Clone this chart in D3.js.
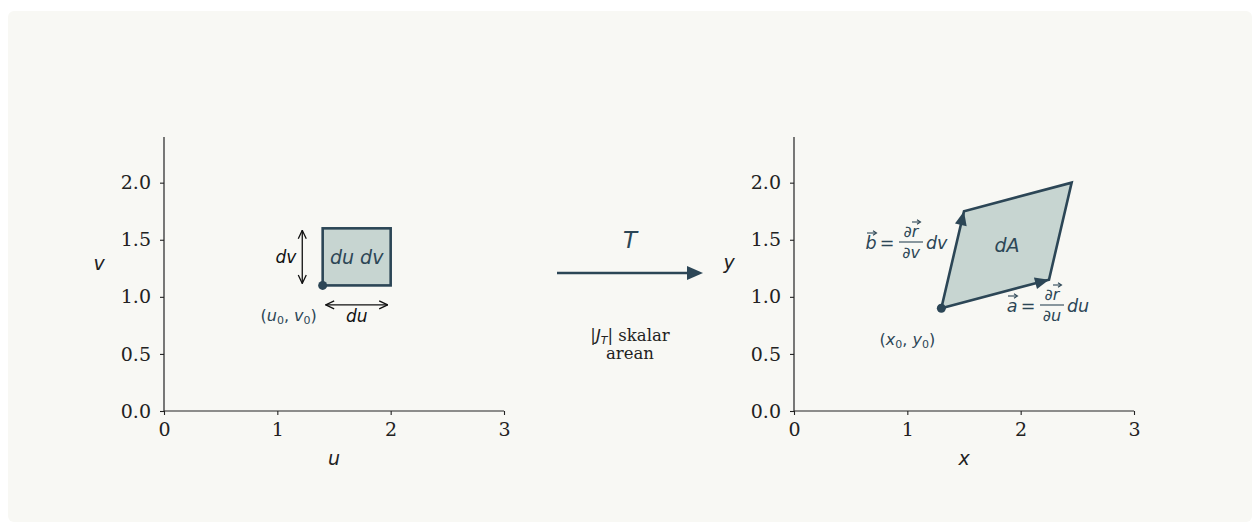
<!DOCTYPE html>
<html><head><meta charset="utf-8">
<script src="https://cdn.jsdelivr.net/npm/d3@7"></script>
<style>
html,body{margin:0;padding:0;background:#ffffff;}
svg{display:block;}
</style></head>
<body>
<script>
// ---- data ----
const xTicks = [0, 1, 2, 3];
const yTicks = [0, 0.5, 1.0, 1.5, 2.0];
const xDomain = [0, 3];
const yDomain = [0, 2.4];
const squareOrigin = [1.4, 1.1];   // (u0, v0)
const squareSize = [0.6, 0.5];     // du, dv
const dvArrowU = 1.22;
const duArrowV = 0.93;
const labelUV0 = [1.1, 0.83];
const origin2 = [1.3, 0.9];        // (x0, y0)
const vecA = [0.95, 0.25];
const vecB = [0.2, 0.85];
const labelDA = [1.88, 1.45];
const labelXY0 = [1.0, 0.62];

const W = 1252, H = 524;
const dark = "#2c4656";
const fillC = "#c7d5d1";
const mathFont = "DejaVu Sans";
const serif = "DejaVu Serif";

const svg = d3.select("body").append("svg").attr("width", W).attr("height", H);
svg.append("rect").attr("x", 8).attr("y", 11).attr("width", W - 8).attr("height", H - 13)
  .attr("rx", 6).attr("fill", "#f8f8f4");

const defs = svg.append("defs");
function openHead(id) {
  defs.append("marker").attr("id", id).attr("viewBox", "0 0 10 10").attr("refX", 9.5).attr("refY", 5)
    .attr("markerWidth", 10).attr("markerHeight", 10).attr("markerUnits", "userSpaceOnUse")
    .attr("orient", "auto-start-reverse")
    .append("path").attr("d", "M1,1 L9.5,5 L1,9").attr("fill", "none").attr("stroke", "#111").attr("stroke-width", 1.3);
}
openHead("oh");

function makeAxes(x0) {
  const x = d3.scaleLinear().domain(xDomain).range([x0, x0 + 340]);
  const y = d3.scaleLinear().domain(yDomain).range([411, 137]);
  const g = svg.append("g");
  const ax = g.append("g").attr("transform", `translate(0,${y(0)})`)
    .call(d3.axisBottom(x).tickValues(xTicks).tickFormat(d3.format("d")).tickSize(4).tickPadding(8));
  const ay = g.append("g").attr("transform", `translate(${x(0)},0)`)
    .call(d3.axisLeft(y).tickValues(yTicks).tickFormat(d3.format(".1f")).tickSize(4).tickPadding(9));
  [ax, ay].forEach(a => {
    a.select(".domain").attr("stroke", "#222").attr("stroke-width", 1.2);
    a.selectAll(".tick line").attr("stroke", "#222").attr("stroke-width", 1.1);
    a.selectAll(".tick text").attr("font-family", serif).attr("font-size", 19).attr("fill", "#222");
  });
  ax.select(".domain").attr("d", `M${x(0)},0H${x(3)}`);
  ay.select(".domain").attr("d", `M0,${y(0)}V${y(2.4)}`);
  return {x, y, g};
}

function mathText(parent, x, y, s, size, color, anchor) {
  return parent.append("text").attr("x", x).attr("y", y).attr("font-family", mathFont)
    .attr("font-style", "italic").attr("font-size", size).attr("fill", color)
    .attr("text-anchor", anchor || "middle").text(s);
}
function vecArrow(parent, cx, topY, w, color) {
  parent.append("line").attr("x1", cx - w / 2).attr("x2", cx + w / 2).attr("y1", topY).attr("y2", topY)
    .attr("stroke", color).attr("stroke-width", 1.1);
  parent.append("path").attr("d", `M${cx + w / 2 - 3},${topY - 2.2} L${cx + w / 2 + 0.5},${topY} L${cx + w / 2 - 3},${topY + 2.2}`)
    .attr("fill", "none").attr("stroke", color).attr("stroke-width", 1.1);
}

// ---- left axes ----
const L = makeAxes(164);
mathText(svg, L.x(1.5), 465, "u", 19, "#222");
mathText(svg, 99, 270, "v", 19, "#222");

const [u0, v0] = squareOrigin;
L.g.append("rect").attr("x", L.x(u0)).attr("y", L.y(v0 + squareSize[1]))
  .attr("width", L.x(u0 + squareSize[0]) - L.x(u0)).attr("height", L.y(v0) - L.y(v0 + squareSize[1]))
  .attr("fill", fillC).attr("stroke", dark).attr("stroke-width", 2.6);
L.g.append("circle").attr("cx", L.x(u0)).attr("cy", L.y(v0)).attr("r", 4.5).attr("fill", dark);
mathText(L.g, L.x(u0 + squareSize[0] / 2), L.y(v0 + squareSize[1] / 2) + 7, "du dv", 19, dark);

// dv arrow
L.g.append("line").attr("x1", L.x(dvArrowU)).attr("x2", L.x(dvArrowU))
  .attr("y1", L.y(v0) - 2).attr("y2", L.y(v0 + squareSize[1]) + 2)
  .attr("stroke", "#111").attr("stroke-width", 1.3)
  .attr("marker-start", "url(#oh)").attr("marker-end", "url(#oh)");
mathText(L.g, L.x(dvArrowU) - 6, L.y(v0 + squareSize[1] / 2) + 6, "dv", 17, "#111", "end");
// du arrow
L.g.append("line").attr("x1", L.x(u0) + 3).attr("x2", L.x(u0 + squareSize[0]) - 3)
  .attr("y1", L.y(duArrowV)).attr("y2", L.y(duArrowV))
  .attr("stroke", "#111").attr("stroke-width", 1.3)
  .attr("marker-start", "url(#oh)").attr("marker-end", "url(#oh)");
mathText(L.g, L.x(u0 + squareSize[0] / 2), L.y(duArrowV) + 17, "du", 17, "#111");
// (u0, v0)
function subLabel(parent, x, y, a, b) {
  const t = parent.append("text").attr("x", x).attr("y", y)
    .attr("font-family", mathFont).attr("font-size", 16).attr("fill", dark).attr("text-anchor", "middle");
  t.append("tspan").text("(");
  t.append("tspan").attr("font-style", "italic").text(a);
  t.append("tspan").attr("font-size", 11).attr("dy", 3).text("0");
  t.append("tspan").attr("dy", -3).text(", ");
  t.append("tspan").attr("font-style", "italic").text(b);
  t.append("tspan").attr("font-size", 11).attr("dy", 3).text("0");
  t.append("tspan").attr("dy", -3).text(")");
}
subLabel(L.g, L.x(labelUV0[0]), L.y(labelUV0[1]) + 5, "u", "v");

// ---- middle ----
const midY = 273;
svg.append("line").attr("x1", 557).attr("x2", 690).attr("y1", midY).attr("y2", midY)
  .attr("stroke", dark).attr("stroke-width", 2.4);
svg.append("path").attr("d", `M687,${midY - 7} L703,${midY} L687,${midY + 7} Z`).attr("fill", dark);
mathText(svg, 630, 248, "T", 23, dark);
const jt = svg.append("text").attr("x", 630).attr("y", 341).attr("font-family", serif)
  .attr("font-size", 16.5).attr("fill", "#222").attr("text-anchor", "middle");
jt.append("tspan").text("|");
jt.append("tspan").attr("font-family", mathFont).attr("font-style", "italic").text("J");
jt.append("tspan").attr("font-family", mathFont).attr("font-style", "italic").attr("font-size", 11).attr("dy", 3).text("T");
jt.append("tspan").attr("dy", -3).text("| skalar");
svg.append("text").attr("x", 630).attr("y", 359).attr("font-family", serif)
  .attr("font-size", 16.5).attr("fill", "#222").attr("text-anchor", "middle").text("arean");

// ---- right axes ----
const R = makeAxes(794);
mathText(svg, R.x(1.5), 465, "x", 19, "#222");
mathText(svg, 729, 269, "y", 19, "#222");

const o = origin2;
const pA = [o[0] + vecA[0], o[1] + vecA[1]];
const pB = [o[0] + vecB[0], o[1] + vecB[1]];
const pC = [o[0] + vecA[0] + vecB[0], o[1] + vecA[1] + vecB[1]];
const poly = [o, pA, pC, pB].map(p => [R.x(p[0]), R.y(p[1])]);
R.g.append("path").attr("d", d3.line()(poly) + "Z").attr("fill", fillC)
  .attr("stroke", dark).attr("stroke-width", 2.6).attr("stroke-linejoin", "miter");
function headAt(p, from) {
  const tip = [R.x(p[0]), R.y(p[1])], s = [R.x(from[0]), R.y(from[1])];
  const ang = Math.atan2(tip[1] - s[1], tip[0] - s[0]);
  const len = 14, hw = 6;
  const bx = tip[0] - len * Math.cos(ang), by = tip[1] - len * Math.sin(ang);
  const nx = -Math.sin(ang) * hw, ny = Math.cos(ang) * hw;
  R.g.append("path").attr("d", `M${tip[0]},${tip[1]} L${bx + nx},${by + ny} L${bx - nx},${by - ny} Z`).attr("fill", dark);
}
headAt(pA, o);
headAt(pB, o);
R.g.append("circle").attr("cx", R.x(o[0])).attr("cy", R.y(o[1])).attr("r", 4.5).attr("fill", dark);
mathText(R.g, R.x(labelDA[0]), R.y(labelDA[1]) + 7, "dA", 19, dark);

function fracLabel(left, base, letter, den, tail) {
  const g = R.g.append("g");
  mathText(g, left + 5, base, letter, 17.5, dark);
  vecArrow(g, left + 5.5, base - 16, 9, dark);
  g.append("text").attr("x", left + 21).attr("y", base).attr("font-family", mathFont)
    .attr("font-size", 17.5).attr("fill", dark).attr("text-anchor", "middle").text("=");
  const fx = left + 45;
  mathText(g, fx, base - 12, "∂r", 16, dark);
  vecArrow(g, fx + 5, base - 27, 8, dark);
  g.append("line").attr("x1", fx - 12).attr("x2", fx + 12).attr("y1", base - 7).attr("y2", base - 7)
    .attr("stroke", dark).attr("stroke-width", 1.1);
  mathText(g, fx, base + 9, den, 16, dark);
  mathText(g, left + 60, base, tail, 17.5, dark, "start");
}
fracLabel(866, 249, "b", "∂v", "dv");
fracLabel(1007, 312, "a", "∂u", "du");

subLabel(R.g, R.x(labelXY0[0]), R.y(labelXY0[1]) + 5, "x", "y");
</script>
</body></html>
